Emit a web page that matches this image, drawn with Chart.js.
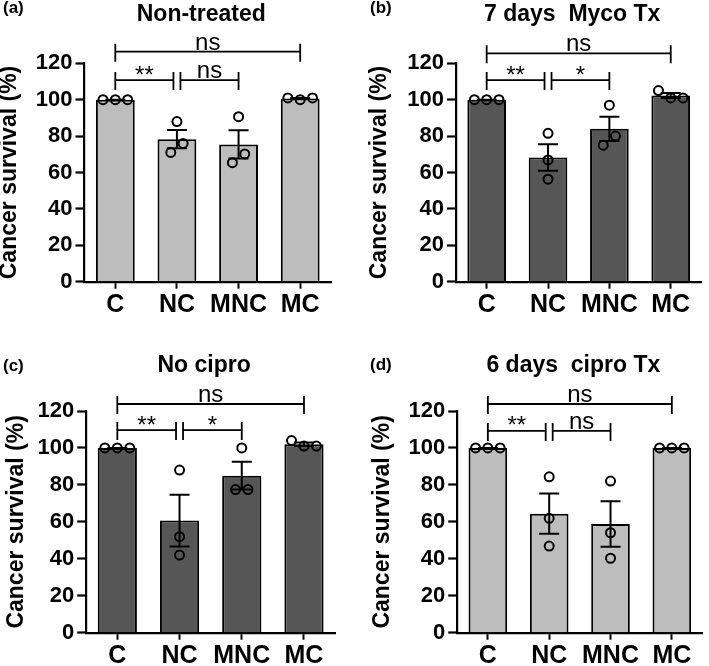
<!DOCTYPE html>
<html>
<head>
<meta charset="utf-8">
<title>Cancer survival</title>
<script src="https://cdn.jsdelivr.net/npm/chart.js@4.4.1/dist/chart.umd.min.js"></script>
<style>
    html, body { margin: 0; padding: 0; background: #fff; }
    #figure { position: relative; width: 709px; height: 666px; }
    #figure canvas { position: absolute; }
</style>
</head>
<body>
<div id="figure">
    <canvas id="panelA" width="355" height="330" style="left:0;top:0"></canvas>
    <canvas id="panelB" width="354" height="330" style="left:355px;top:0"></canvas>
    <canvas id="panelC" width="355" height="336" style="left:0;top:330px"></canvas>
    <canvas id="panelD" width="354" height="336" style="left:355px;top:330px"></canvas>
</div>
<script>
"use strict";

// groups on the x axis and the y ticks
const groups = ["C", "NC", "MNC", "MC"];
const yTicks = [0, 20, 40, 60, 80, 100, 120];
const yLabel = "Cancer survival (%)";

// replicates (%) per group C, NC, MNC, MC
const nonTreated = [[100, 100, 100], [88, 71, 76], [90.7, 65.4, 70.2], [101, 100, 101]];
const mycoTx = [[100, 100, 100], [81.5, 66.9, 56.3], [97, 75, 80], [105, 101, 101]];
const noCipro = [[100, 100, 100], [88, 52, 42], [100, 77.5, 77.5], [104, 101, 101]];
const ciproTx = [[100, 100, 100], [84.4, 61.9, 46.9], [82.1, 54.1, 40.3], [100, 100, 100]];

// significance brackets: from group, to group, label, height (%)
const nonTreatedStats = [[0, 1, "**", 110.8], [1, 2, "ns", 110.8], [0, 3, "ns", 126.4]];
const mycoTxStats = [[0, 1, "**", 110.8], [1, 2, "*", 110.8], [0, 3, "ns", 125.5]];
const noCiproStats = [[0, 1, "**", 109.7], [1, 2, "*", 109.7], [0, 3, "ns", 123.8]];
const ciproTxStats = [[0, 1, "**", 109.2], [1, 2, "ns", 109.2], [0, 3, "ns", 123.8]];

const titles = ["Non-treated", "7 days  Myco Tx", "No cipro", "6 days  cipro Tx"];
const letters = ["(a)", "(b)", "(c)", "(d)"];

const LIGHT = "#bdbdbd";
const DARK = "#565656";
const FONT = "'Liberation Sans', Arial, sans-serif";

Chart.defaults.font.family = FONT;
Chart.defaults.color = "#000";

// layout of each panel inside its canvas
const panels = [
    { id: "panelA", values: nonTreated, stats: nonTreatedStats, title: titles[0], letter: letters[0], fill: LIGHT,
      w: 355, h: 330, area: { left: 84.5, right: 331, top: 63.3, bottom: 281.7 }, labelLeft: 0.4,
      titleY: 20.5, letterX: 3, letterY: 13.1 },
    { id: "panelB", values: mycoTx, stats: mycoTxStats, title: titles[1], letter: letters[1], fill: DARK,
      w: 354, h: 330, area: { left: 101, right: 346.4, top: 63.3, bottom: 281.7 }, labelLeft: 15.4,
      titleY: 20.7, letterX: 15, letterY: 13.1 },
    { id: "panelC", values: noCipro, stats: noCiproStats, title: titles[2], letter: letters[2], fill: DARK,
      w: 355, h: 336, area: { left: 86.2, right: 335.1, top: 81, bottom: 302.7 }, labelLeft: 7,
      titleY: 41.7, letterX: 3, letterY: 41.4 },
    { id: "panelD", values: ciproTx, stats: ciproTxStats, title: titles[3], letter: letters[3], fill: LIGHT,
      w: 354, h: 336, area: { left: 102.2, right: 351.1, top: 81, bottom: 302.7 }, labelLeft: 18.8,
      titleY: 41.7, letterX: 15, letterY: 39.7 }
];

function mean(vals) {
    return vals.reduce((s, v) => s + v, 0) / vals.length;
}

function sem(vals) {
    const m = mean(vals);
    const sd = Math.sqrt(vals.reduce((s, v) => s + (v - m) * (v - m), 0) / (vals.length - 1));
    return sd / Math.sqrt(vals.length);
}

// spread points that would overlap sideways (like the prism scatter)
function jitter(vals) {
    const order = vals.map((v, i) => i).sort((a, b) => vals[a] - vals[b]);
    const clusters = [];
    order.forEach(i => {
        const last = clusters[clusters.length - 1];
        if (last && vals[i] - vals[last[last.length - 1]] < 6) last.push(i);
        else clusters.push([i]);
    });
    const offsets = vals.map(() => 0);
    clusters.forEach(c => {
        c.sort((a, b) => a - b);
        c.forEach((i, k) => { offsets[i] = (k - (c.length - 1) / 2) * 0.2; });
    });
    return offsets;
}

// error bars, brackets, titles
const panelDecor = {
    id: "panelDecor",
    afterDatasetsDraw(chart, args, opts) {
        const ctx = chart.ctx;
        const x = chart.scales.x;
        const y = chart.scales.y;
        ctx.save();
        ctx.strokeStyle = "#000";
        ctx.lineWidth = 2;
        opts.values.forEach((vals, i) => {
            const m = mean(vals);
            const e = sem(vals);
            const px = x.getPixelForValue(i + 1);
            const top = y.getPixelForValue(m + e);
            const bot = y.getPixelForValue(m - e);
            ctx.beginPath();
            ctx.moveTo(px, top);
            ctx.lineTo(px, bot);
            ctx.moveTo(px - 10, top);
            ctx.lineTo(px + 10, top);
            ctx.moveTo(px - 10, bot);
            ctx.lineTo(px + 10, bot);
            ctx.stroke();
        });
        ctx.restore();
    },
    afterDraw(chart, args, opts) {
        const ctx = chart.ctx;
        const x = chart.scales.x;
        const y = chart.scales.y;
        const area = chart.chartArea;
        ctx.save();
        ctx.strokeStyle = "#000";
        ctx.fillStyle = "#000";
        ctx.lineWidth = 1.8;
        ctx.textAlign = "center";
        ctx.textBaseline = "alphabetic";
        opts.stats.forEach(([a, b, label, level]) => {
            let x1 = x.getPixelForValue(a + 1);
            let x2 = x.getPixelForValue(b + 1);
            // leave a gap where two brackets meet
            if (opts.stats.some(s => s[3] === level && s[1] === a)) x1 += 3.5;
            if (opts.stats.some(s => s[3] === level && s[0] === b)) x2 -= 3.5;
            const py = y.getPixelForValue(level);
            ctx.beginPath();
            ctx.moveTo(x1, py);
            ctx.lineTo(x2, py);
            ctx.moveTo(x1, py - 8);
            ctx.lineTo(x1, py + 10);
            ctx.moveTo(x2, py - 8);
            ctx.lineTo(x2, py + 10);
            ctx.stroke();
            ctx.font = "24px " + FONT;
            ctx.fillText(label, (x1 + x2) / 2, label.startsWith("*") ? py + 2.5 : py - 2);
        });
        ctx.font = "bold 23px " + FONT;
        ctx.fillText(opts.title, (area.left + area.right) / 2 - 6.5, opts.titleY);
        ctx.textAlign = "left";
        ctx.font = "bold 17px " + FONT;
        ctx.fillText(opts.letter, opts.letterX, opts.letterY);
        ctx.restore();
    }
};

function drawPanel(p) {
    const means = p.values.map(mean);
    const points = [];
    p.values.forEach((vals, i) => {
        const off = jitter(vals);
        vals.forEach((v, k) => points.push({ x: i + 1 + off[k], y: v }));
    });

    new Chart(document.getElementById(p.id), {
        type: "bar",
        data: {
            datasets: [{
                type: "scatter",
                data: points,
                order: 1,
                pointRadius: 4.5,
                pointBorderWidth: 2,
                pointBorderColor: "#000",
                pointBackgroundColor: "rgba(0,0,0,0)"
            }, {
                type: "bar",
                data: means.map((m, i) => ({ x: i + 1, y: m })),
                order: 2,
                backgroundColor: p.fill,
                borderColor: "#000",
                borderWidth: 2,
                barPercentage: 0.63,
                categoryPercentage: 1
            }]
        },
        options: {
            responsive: false,
            animation: false,
            layout: {
                padding: { left: p.labelLeft, top: p.area.top, right: p.w - p.area.right, bottom: 0 }
            },
            plugins: {
                legend: { display: false },
                tooltip: { enabled: false },
                panelDecor: {
                    values: p.values,
                    stats: p.stats,
                    title: p.title,
                    titleY: p.titleY,
                    letter: p.letter,
                    letterX: p.letterX,
                    letterY: p.letterY
                }
            },
            scales: {
                x: {
                    type: "linear",
                    min: 0.5,
                    max: 4.5,
                    offset: false,
                    afterBuildTicks: s => { s.ticks = groups.map((g, i) => ({ value: i + 1 })); },
                    afterFit: s => { s.height = p.h - p.area.bottom; },
                    ticks: {
                        callback: v => groups[v - 1],
                        autoSkip: false,
                        maxRotation: 0,
                        padding: 1,
                        color: "#000",
                        font: { size: 25, weight: "bold" }
                    },
                    grid: { drawOnChartArea: false, offset: false, tickLength: 7, tickWidth: 2, tickColor: "#000" },
                    border: { color: "#000", width: 2.2 }
                },
                y: {
                    min: 0,
                    max: 120,
                    afterBuildTicks: s => { s.ticks = yTicks.map(v => ({ value: v })); },
                    afterFit: s => { s.width = p.area.left - p.labelLeft; },
                    ticks: { padding: 3, color: "#000", font: { size: 22, weight: "bold" } },
                    grid: { drawOnChartArea: false, tickLength: 9, tickWidth: 2.2, tickColor: "#000" },
                    border: { color: "#000", width: 2.2 },
                    title: {
                        display: true,
                        text: yLabel,
                        color: "#000",
                        padding: 0,
                        font: { size: 23, weight: "bold", lineHeight: 0.8 }
                    }
                }
            }
        },
        plugins: [panelDecor]
    });
}

panels.forEach(drawPanel);
</script>
</body>
</html>
